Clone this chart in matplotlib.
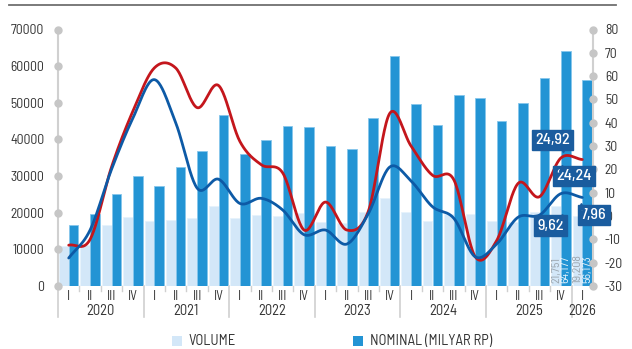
import numpy as np
import matplotlib
matplotlib.use("Agg")
import matplotlib.pyplot as plt
from matplotlib.transforms import offset_copy, blended_transform_factory
from matplotlib.patches import Rectangle
from matplotlib.lines import Line2D

# ---------------- data ----------------
quarters = ["I", "II", "III", "IV"] * 6 + ["I"]
years = ["2020", "2021", "2022", "2023", "2024", "2025", "2026"]
volume = [10900, 11200, 16650, 18750, 17700, 18000, 18650, 21750, 18550, 19380,
          19200, 19840, 17550, 17100, 20300, 24100, 20200, 17740, 19750, 19750,
          17740, 17400, 20100, 21751, 19208]
nominal = [16700, 19650, 25100, 30000, 27400, 32500, 36850, 46760, 35950, 39760,
           43760, 43500, 38200, 37400, 45750, 62700, 49600, 43850, 52200, 51300,
           45100, 49850, 56770, 64177, 56173]
growth_nominal = [-12.5, -10.0, 21.0, 45.0, 63.5, 63.5, 46.5, 56.0, 32.0, 22.0,
                  18.5, -6.0, 6.0, -6.0, 2.0, 44.0, 30.0, 17.5, 15.5, -17.5,
                  -10.5, 14.0, 8.3, 24.92, 24.24]
growth_volume = [-18.0, -6.0, 20.0, 42.0, 58.5, 40.0, 12.0, 15.8, 5.4, 7.6,
                 2.6, -8.0, -6.0, -12.0, 1.0, 21.0, 15.0, 4.0, -1.0, -17.5,
                 -12.0, -0.5, 0.4, 9.62, 7.96]
labelled_bars = [23, 24]
left_ticks = list(range(0, 70001, 10000))
right_ticks = list(range(-30, 81, 10))

# ---------------- style ----------------
plt.rcParams["font.family"] = ["Barlow Semi Condensed", "DejaVu Sans"]
C_LIGHT = "#d3e7f8"
C_DARK = "#2394d4"
C_RED = "#c4161c"
C_BLUE = "#0d5aa6"
C_BOX = "#1a5c9e"
C_AXIS = "#d0d0d0"
C_TEXT = "#333333"


def catmull(xs, ys, n=24):
    p = np.column_stack([xs, ys]).astype(float)
    p = np.vstack([2 * p[0] - p[1], p, 2 * p[-1] - p[-2]])
    out = []
    t = np.linspace(0, 1, n, endpoint=False)[:, None]
    for i in range(1, len(p) - 2):
        p0, p1, p2, p3 = p[i - 1], p[i], p[i + 1], p[i + 2]
        seg = 0.5 * ((2 * p1) + (-p0 + p2) * t + (2 * p0 - 5 * p1 + 4 * p2 - p3) * t ** 2
                     + (-p0 + 3 * p1 - 3 * p2 + p3) * t ** 3)
        out.append(seg)
    out.append(p[-2][None, :])
    out = np.vstack(out)
    return out[:, 0], out[:, 1]


fig = plt.figure(figsize=(6.32, 3.49), dpi=100)
W, H = 632, 349
ax = fig.add_axes([58 / W, 63 / H, 535 / W, 256.5 / H])
x = np.arange(len(quarters))

ax.bar(x - 0.225, volume, width=0.45, color=C_LIGHT, edgecolor="#e6f2fc", lw=0.6, zorder=2)
ax.bar(x + 0.225, nominal, width=0.45, color=C_DARK, edgecolor="#86c6ec", lw=0.6, zorder=2)
ax.set_xlim(-0.5, len(quarters) - 0.5)
ax.set_ylim(0, 70000)

# bar value labels (last two quarters)
for i in labelled_bars:
    ax.text(x[i] - 0.225, 900, f"{volume[i]:,}", rotation=90, ha="center", va="bottom",
            fontsize=8.5, color="#9aa4ad", zorder=3)
    ax.text(x[i] + 0.225, 900, f"{nominal[i]:,}", rotation=90, ha="center", va="bottom",
            fontsize=8.5, color="#eaf5fd", zorder=3)

ax2 = ax.twinx()
ax2.set_ylim(-30, 80)
ax2.set_position(ax.get_position())

sx, sy = catmull(x, growth_nominal)
ax2.plot(sx, sy, color=C_RED, lw=2.0, zorder=4, solid_capstyle="round")
sx, sy = catmull(x, growth_volume)
ax2.plot(sx, sy, color=C_BLUE, lw=2.0, zorder=4, solid_capstyle="round")

# spines
for a in (ax, ax2):
    for s in ("top", "bottom", "left", "right"):
        a.spines[s].set_visible(False)
ax.spines["left"].set_visible(True)
ax.spines["left"].set_color(C_AXIS)
ax.spines["left"].set_linewidth(1.5)
ax2.spines["right"].set_visible(True)
ax2.spines["right"].set_color(C_AXIS)
ax2.spines["right"].set_linewidth(1.5)

ax.set_yticks(left_ticks)
ax.set_yticklabels([str(v) for v in left_ticks])
ax.tick_params(axis="y", length=0, pad=10, labelsize=9.8, labelcolor=C_TEXT)
ax2.set_yticks(right_ticks)
ax2.set_yticklabels([str(v) for v in right_ticks])
ax2.tick_params(axis="y", length=0, pad=8.5, labelsize=9.8, labelcolor=C_TEXT)
ax.set_xticks([])
ax2.set_xticks([])

ax.plot(np.full(len(left_ticks), -0.5), left_ticks, "o", ms=5, color="#c6c6c6",
        clip_on=False, zorder=6)
ax2.plot(np.full(len(right_ticks), len(quarters) - 0.5), right_ticks, "o", ms=5,
         color="#c6c6c6", clip_on=False, zorder=6)

# x axis categories
tr = blended_transform_factory(ax.transData, ax.transAxes)
ph = 256.5
for i, q in enumerate(quarters):
    ax.text(x[i], -10 / ph, q, transform=tr, ha="center", va="center", fontsize=9.5,
            color=C_TEXT)
for i in range(len(quarters) - 1):
    if (i + 1) % 4 != 0:
        ax.plot([i + 0.5, i + 0.5], [0, -5 / ph], transform=tr, color=C_AXIS, lw=1,
                clip_on=False)
for k, yr in enumerate(years):
    start = 4 * k
    end = min(4 * k + 3, len(quarters) - 1)
    ax.text((start + end) / 2, -25 / ph, yr, transform=tr, ha="center", va="center",
            fontsize=10.5, color=C_TEXT)
    ax.plot([start - 0.5, start - 0.5], [0, -31 / ph], transform=tr, color=C_AXIS,
            lw=1.2, clip_on=False)

# annotation boxes
ann = [
    (x[23], growth_nominal[23], (-8, 18), (2, 9), "v"),
    (x[24], growth_nominal[24], (-8, -16.6), (-20, -8), "^"),
    (x[23], growth_volume[23], (-10, -32), (1.5, -23), "^"),
    (x[24], growth_volume[24], (11.4, -17.6), (-1.6, -8.5), "^"),
]
for xi, yi, off, poff, mk in ann:
    txt = f"{yi:.2f}".replace(".", ",")
    t = offset_copy(ax2.transData, fig=fig, x=off[0], y=off[1], units="dots")
    ax2.text(xi, yi, txt, transform=t, ha="center", va="center", fontsize=11.5,
             fontweight="medium", color="white", zorder=8,
             bbox=dict(boxstyle="square,pad=0.2", fc=C_BOX, ec=C_BOX))
    tp = offset_copy(ax2.transData, fig=fig, x=poff[0], y=poff[1], units="dots")
    ax2.plot([xi], [yi], marker=mk, ms=4, color=C_BOX, transform=tp, zorder=8,
             clip_on=False)

# legend
fig.add_artist(Rectangle((172 / W, 1 - 346 / H), 10 / W, 10 / H, transform=fig.transFigure,
                         fc=C_LIGHT, ec="none"))
fig.text(188 / W, 1 - 341 / H, "VOLUME", ha="left", va="center", fontsize=10.5, color=C_TEXT)
fig.add_artist(Rectangle((353 / W, 1 - 346 / H), 10 / W, 10 / H, transform=fig.transFigure,
                         fc=C_DARK, ec="none"))
fig.text(370 / W, 1 - 341 / H, "NOMINAL (MILYAR RP)", ha="left", va="center", fontsize=10.5,
         color=C_TEXT)

# top rule
fig.add_artist(Line2D([9 / W, 616 / W], [1 - 5 / H, 1 - 5 / H], transform=fig.transFigure,
                      color="#707070", lw=1.3))

fig.savefig("out.png", dpi=100)
